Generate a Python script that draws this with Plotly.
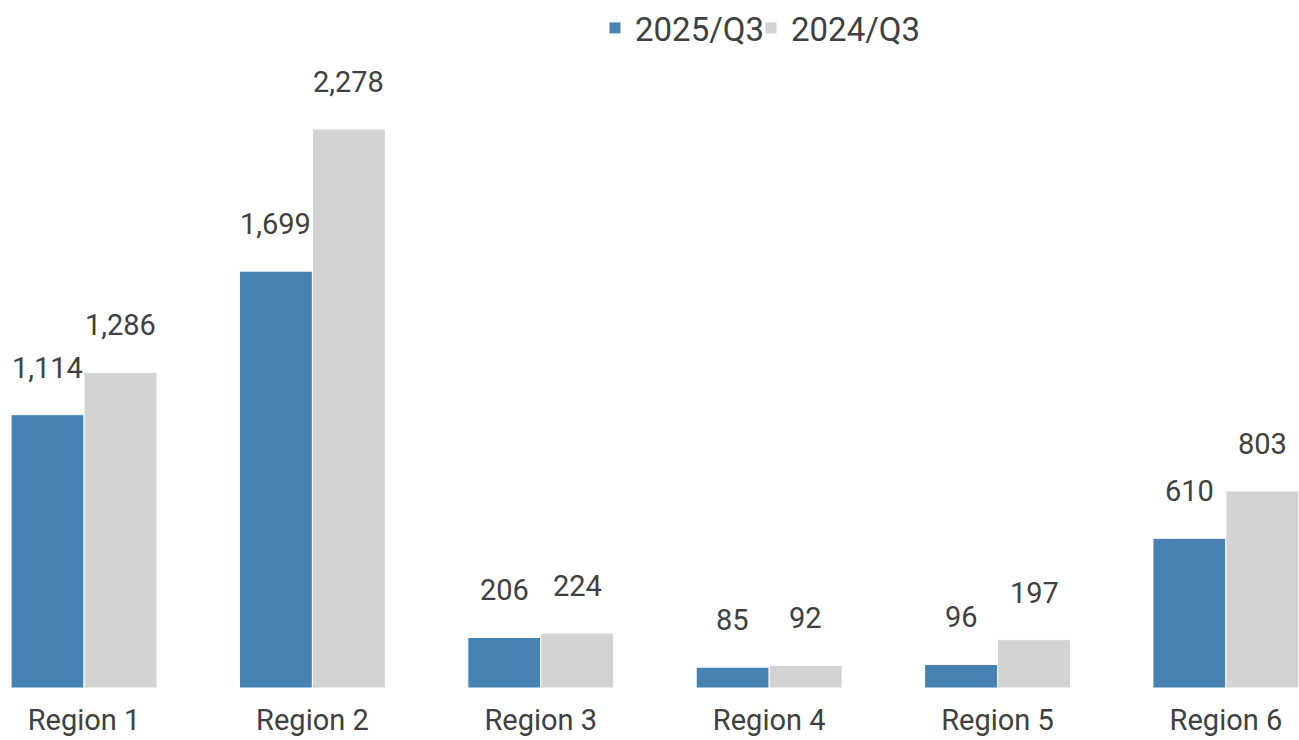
import plotly.graph_objects as go

categories = ["Region 1", "Region 2", "Region 3", "Region 4", "Region 5", "Region 6"]
values_2025 = [1114, 1699, 206, 85, 96, 610]
values_2024 = [1286, 2278, 224, 92, 197, 803]
series_names = ["2025/Q3", "2024/Q3"]
colors = ["#4682B4", "#D3D3D3"]

W, H = 1299, 740
xs = list(range(len(categories)))
fig = go.Figure()
for name, vals, col, lg in zip(series_names, [values_2025, values_2024], colors, ["legend", "legend2"]):
    fig.add_trace(go.Bar(
        x=xs, y=vals, name=name, legend=lg, showlegend=True,
        marker=dict(color=col, line=dict(color="white", width=1)),
        hoverinfo="skip",
    ))

bargap = 0.361
group_w = 1 - bargap
offsets = [-group_w / 4, group_w / 4]
for off, vals in zip(offsets, [values_2025, values_2024]):
    for i, v in enumerate(vals):
        fig.add_annotation(x=i + off, y=v, text=f"{v:,}", showarrow=False,
                           yanchor="middle", yshift=47,
                           font=dict(size=29, color="#404040", family="Roboto"))

leg_common = dict(orientation="h", xanchor="left", y=1.0, yanchor="top",
                  font=dict(size=33, color="#404040", family="Roboto"),
                  itemwidth=30, bgcolor="rgba(0,0,0,0)", visible=True)
fig.update_layout(
    width=W, height=H, showlegend=True,
    margin=dict(l=0, r=0, t=0, b=52),
    barmode="group", bargap=bargap, bargroupgap=0,
    plot_bgcolor="white", paper_bgcolor="white",
    font=dict(family="Roboto", color="#404040", size=29),
    legend=dict(x=595 / W, **leg_common),
    legend2=dict(x=751 / W, **leg_common),
    xaxis=dict(range=[-0.368, 5.32], tickmode="array", tickvals=xs, ticktext=categories,
               showgrid=False, zeroline=False, showline=False, ticks="",
               tickfont=dict(size=29, color="#404040"), ticklabelstandoff=12),
    yaxis=dict(range=[0, 2804], visible=False, showgrid=False),
)
fig.write_html("out.html", config={"displayModeBar": False},
               post_script="document.body.style.margin='0';document.body.style.overflow='hidden';")
